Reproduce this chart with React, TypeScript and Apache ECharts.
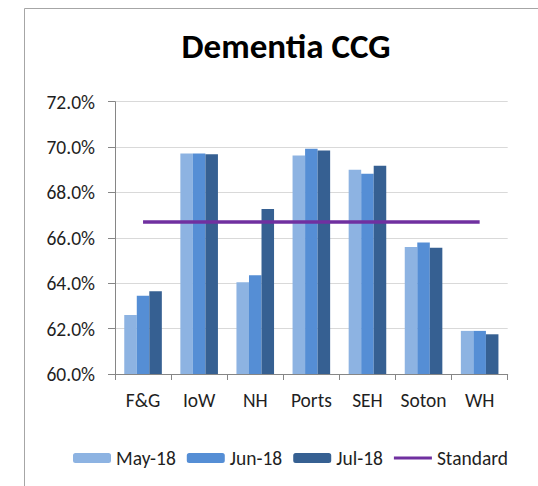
import React, { useEffect, useRef } from "react";
import * as echarts from "echarts";

const categories = ["F&G", "IoW", "NH", "Ports", "SEH", "Soton", "WH"];
const may18 = [62.6, 69.72, 64.04, 69.63, 69.0, 65.6, 61.9];
const jun18 = [63.45, 69.72, 64.35, 69.93, 68.82, 65.8, 61.9];
const jul18 = [63.65, 69.68, 67.27, 69.85, 69.18, 65.56, 61.75];
const standard = [66.7, 66.7, 66.7, 66.7, 66.7, 66.7, 66.7];
const seriesNames = ["May-18", "Jun-18", "Jul-18", "Standard"];
const titleText = "Dementia CCG";

const FONT = "Carlito, Lato, sans-serif";

export default function App() {
  const ref = useRef<HTMLDivElement>(null);
  useEffect(() => {
    if (!ref.current) return;
    const chart = echarts.init(ref.current, undefined, { renderer: "svg" });
    chart.setOption({
      animation: false,
      backgroundColor: "#ffffff",
      textStyle: { fontFamily: FONT },
      graphic: [
        {
          type: "rect",
          shape: { x: 24.5, y: 8.5, width: 700, height: 700 },
          style: { fill: "none", stroke: "#a6a6a6", lineWidth: 1 },
          silent: true,
        },
        {
          type: "text",
          x: 286,
          y: 46,
          style: {
            text: titleText,
            fontFamily: FONT,
            fontSize: 35,
            fontWeight: "bold",
            fill: "#000000",
            textAlign: "center",
            textVerticalAlign: "middle",
          },
        },
      ],
      grid: { left: 115, top: 101.7, right: 30.3, bottom: 112, containLabel: false },
      legend: {
        data: [
          { name: seriesNames[0] },
          { name: seriesNames[1] },
          { name: seriesNames[2] },
          { name: seriesNames[3], icon: "path://M0,0h40v3h-40z" },
        ],
        left: 68,
        top: 443,
        itemWidth: 38,
        itemHeight: 10,
        itemGap: 11,
        symbolKeepAspect: true,
        textStyle: { fontFamily: FONT, fontSize: 19.5, color: "#1f1f1f" },
      },
      xAxis: {
        type: "category",
        data: categories,
        axisLine: { lineStyle: { color: "#868686", width: 1 } },
        axisTick: { show: true, length: 6, alignWithLabel: false, lineStyle: { color: "#868686" } },
        axisLabel: { fontFamily: FONT, fontSize: 19.5, color: "#1f1f1f", margin: 16, interval: 0 },
      },
      yAxis: {
        type: "value",
        min: 60,
        max: 72,
        interval: 2,
        axisLine: { show: true, lineStyle: { color: "#868686", width: 1 } },
        axisTick: { show: true, length: 7, lineStyle: { color: "#868686" } },
        splitLine: { lineStyle: { color: "#d9d9d9", width: 1 } },
        axisLabel: {
          fontFamily: FONT,
          fontSize: 19.5,
          color: "#1f1f1f",
          margin: 20,
          formatter: (v: number) => v.toFixed(1) + "%",
        },
      },
      series: [
        {
          name: seriesNames[0],
          type: "bar",
          data: may18,
          barGap: "0%",
          barCategoryGap: "33%",
          itemStyle: { color: "#8db3e2" },
        },
        {
          name: seriesNames[1],
          type: "bar",
          data: jun18,
          barGap: "0%",
          barCategoryGap: "33%",
          itemStyle: { color: "#558ed5" },
        },
        {
          name: seriesNames[2],
          type: "bar",
          data: jul18,
          barGap: "0%",
          barCategoryGap: "33%",
          itemStyle: { color: "#366092" },
        },
        {
          name: seriesNames[3],
          type: "line",
          data: standard,
          symbol: "none",
          lineStyle: { color: "#7030a0", width: 3.5 },
          itemStyle: { color: "#7030a0" },
          z: 5,
        },
      ],
    });
    return () => chart.dispose();
  }, []);
  return (
    <div
      ref={ref}
      style={{ position: "fixed", left: 0, top: 0, width: 538, height: 486 }}
    />
  );
}
